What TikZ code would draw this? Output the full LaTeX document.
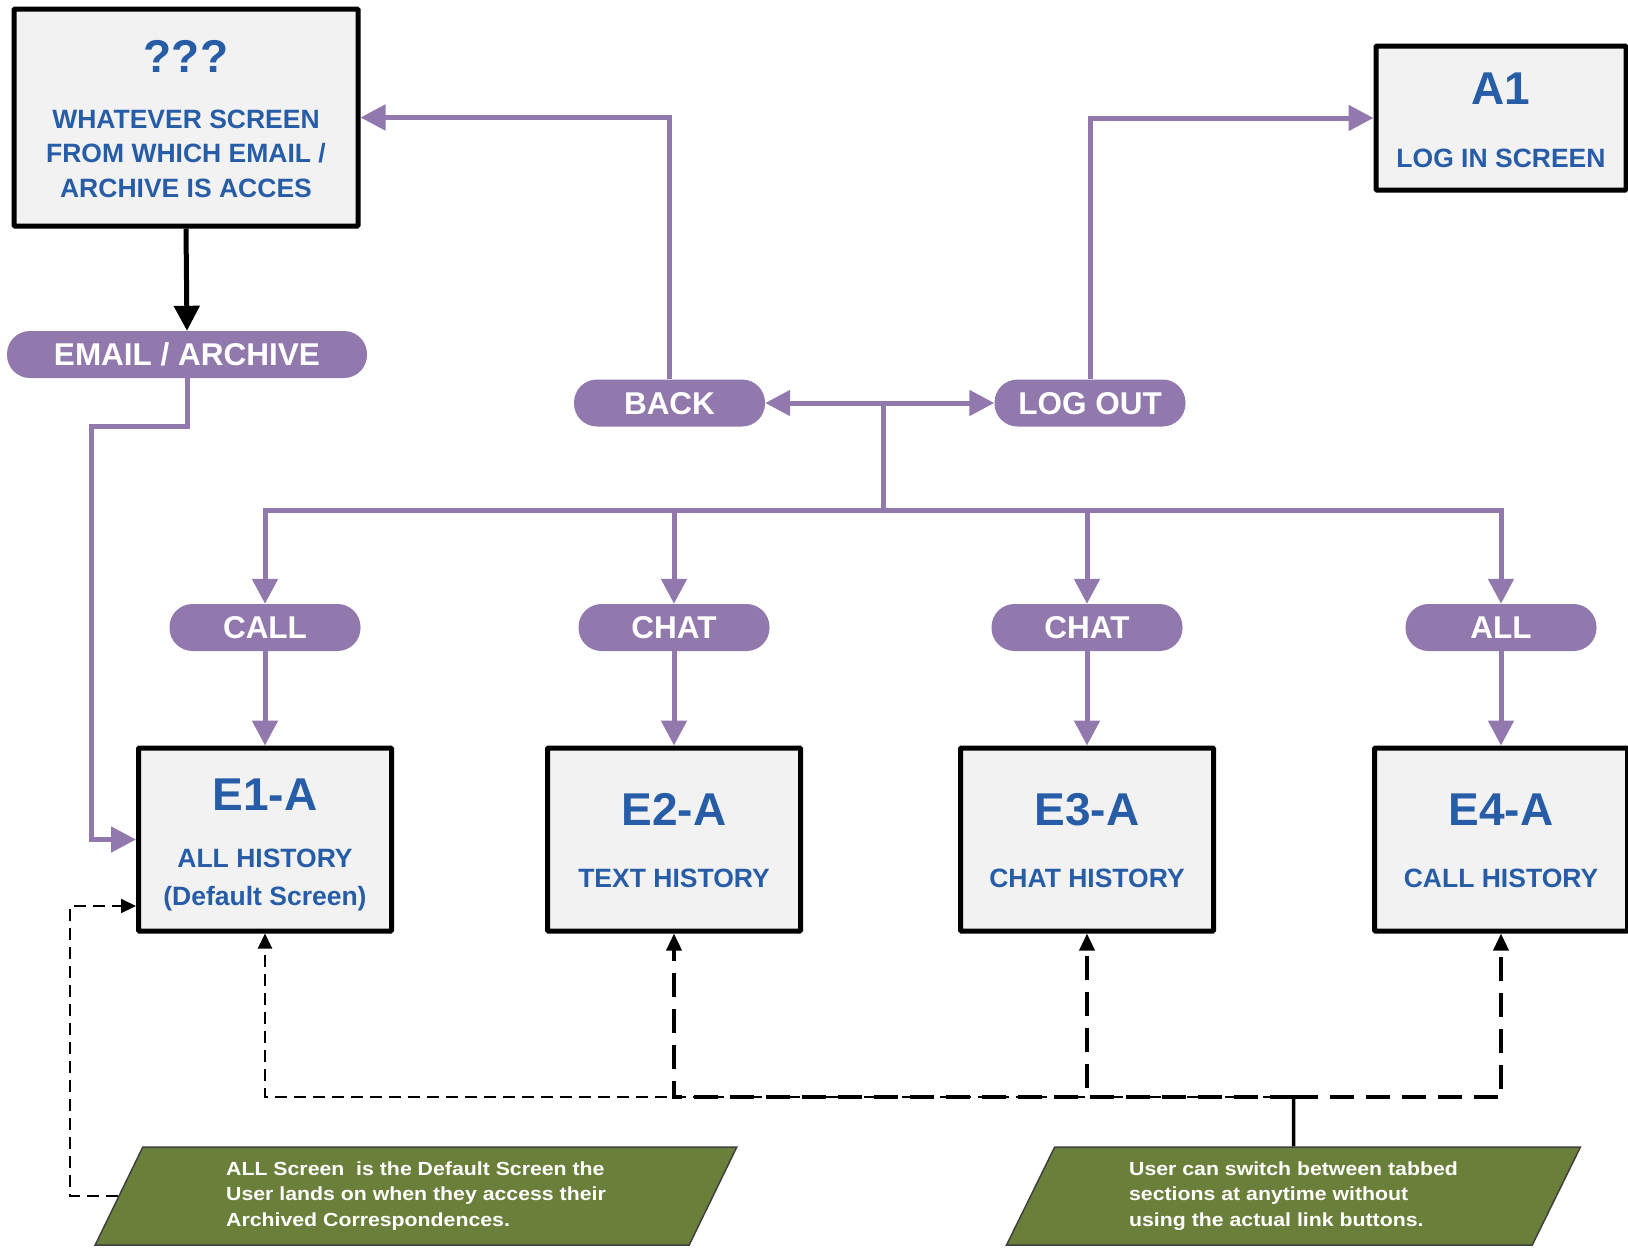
\documentclass[tikz,border=0pt]{standalone}
\usepackage{fontspec}
\setmainfont{Liberation Sans}
\newfontfamily\notefont{Liberation Sans}[FakeStretch=1.12]
\usetikzlibrary{arrows.meta,shapes.geometric,calc}
\definecolor{vio}{HTML}{9179AD}
\definecolor{txtblue}{HTML}{275DA7}
\definecolor{boxfill}{HTML}{F2F2F2}
\definecolor{notegreen}{HTML}{6A7F3A}
\tikzset{
  screenbox/.style={draw=black, line width=5pt, fill=boxfill, inner sep=0pt, rounded corners=1pt},
  ttl/.style={text=txtblue, font=\fontsize{46}{46}\selectfont\bfseries, inner sep=0pt, anchor=base},
  sub/.style={text=txtblue, font=\fontsize{26.5}{30}\selectfont\bfseries, inner sep=0pt, anchor=base},
  pill/.style={fill=vio, rounded corners=23pt, text=white, font=\fontsize{31.5}{32}\selectfont\bfseries,
    inner sep=0pt, minimum width=191pt, minimum height=47pt, text height=22.5pt, text depth=0pt},
  link/.style={draw=vio, line width=5pt, -{Triangle[length=25pt,width=25pt]}},
  blacklink/.style={draw=black, line width=5pt, -{Triangle[length=25pt,width=25pt]}},
  thindash/.style={draw=black, line width=2pt, dash pattern=on 12pt off 7pt, -{Triangle[length=15pt,width=14pt]}},
  thickdash/.style={draw=black, line width=3.5pt, dash pattern=on 24pt off 12pt, -{Triangle[length=17pt,width=15pt]}},
  note/.style={trapezium, trapezium left angle=64.4, trapezium right angle=115.6, trapezium stretches=true,
    fill=notegreen, draw=black!75, line width=1.5pt, text=white, align=left,
    font=\notefont\fontsize{19}{25.7}\selectfont\bfseries, minimum height=98pt, inner sep=0pt}
}
\begin{document}
\begin{tikzpicture}[x=1pt,y=-1pt]
\useasboundingbox (0,0) rectangle (1628,1251);

% top boxes
\node[screenbox, minimum width=344pt, minimum height=217pt] (q) at (186,117.5) {};
\node[ttl] (qt) at (186,72) {???};
\node[sub] (qs1) at (186,128) {WHATEVER SCREEN};
\node[sub] (qs2) at (186,162) {FROM WHICH EMAIL /};
\node[sub] (qs3) at (186,197) {ARCHIVE IS ACCES};

\node[screenbox, minimum width=250pt, minimum height=144pt] (A1) at (1501,118) {};
\node[ttl] (a1t) at (1501,104) {A1};
\node[sub] (a1s) at (1501,167) {LOG IN SCREEN};

% pills
\node[pill, minimum width=360pt] (email) at (187,354.5) {EMAIL / ARCHIVE};
\node[pill] (back) at (669.5,403) {BACK};
\node[pill] (logout) at (1090,403) {LOG OUT};
\node[pill] (call) at (265,627.5) {CALL};
\node[pill] (chat1) at (674,627.5) {CHAT};
\node[pill] (chat2) at (1087,627.5) {CHAT};
\node[pill] (all) at (1501,627.5) {ALL};

% history boxes
\node[screenbox, minimum width=253pt, minimum height=183pt] (E1) at (265,839.5) {};
\node[ttl] (e1t) at (265,810) {E1-A};
\node[sub] (e1s1) at (265,867) {ALL HISTORY};
\node[sub] (e1s2) at (265,905) {(Default Screen)};

\node[screenbox, minimum width=253pt, minimum height=183pt] (E2) at (674,839.5) {};
\node[ttl] (e2t) at (674,825.5) {E2-A};
\node[sub] (e2s) at (674,887.5) {TEXT HISTORY};

\node[screenbox, minimum width=253pt, minimum height=183pt] (E3) at (1087,839.5) {};
\node[ttl] (e3t) at (1087,825.5) {E3-A};
\node[sub] (e3s) at (1087,887.5) {CHAT HISTORY};

\node[screenbox, minimum width=253pt, minimum height=183pt] (E4) at (1501,839.5) {};
\node[ttl] (e4t) at (1501,825.5) {E4-A};
\node[sub] (e4s) at (1501,887.5) {CALL HISTORY};

% notes
\node[note, minimum width=646pt] (ln) at (416,1196) {ALL Screen~ is the Default Screen the\\User lands on when they access their\\Archived Correspondences.};
\node[note, minimum width=577pt] (rn) at (1293.5,1196) {User can switch between tabbed\\sections at anytime without\\using the actual link buttons.};

% connectors
\draw[blacklink] (q.south) -- (email.north);
\coordinate (c1) at (91,426);
\draw[link] (email.south) |- (c1) |- (E1.west);
\draw[link] (back.north) |- (q.east);
\draw[link] (logout.north) |- (A1.west);

\coordinate (hub) at (883,403);
\coordinate (bus) at (883,510);
\draw[link] (hub) -- (back.east);
\draw[link] (hub) -- (logout.west);
\draw[link] (hub) -- (bus) -| (call.north);
\draw[link] (bus) -| (all.north);
\draw[link] (chat1.north |- bus) -- (chat1.north);
\draw[link] (chat2.north |- bus) -- (chat2.north);

\draw[link] (call.south) -- (E1.north);
\draw[link] (chat1.south) -- (E2.north);
\draw[link] (chat2.south) -- (E3.north);
\draw[link] (all.south) -- (E4.north);

% dashed switch lines
\coordinate (J) at (1293.5,1097);
\draw[thindash] (J) -| (E1.south);
\draw[thickdash] (J) -| (E2.south);
\draw[thickdash] (J) -| (E3.south);
\draw[thickdash] (J) -| (E4.south);
\draw[black, line width=3.5pt] (J) -- (rn.north);

\coordinate (lc) at (70,906);
\draw[thindash] (ln.west) -| (lc) -- (E1.west |- lc);
\end{tikzpicture}
\end{document}
